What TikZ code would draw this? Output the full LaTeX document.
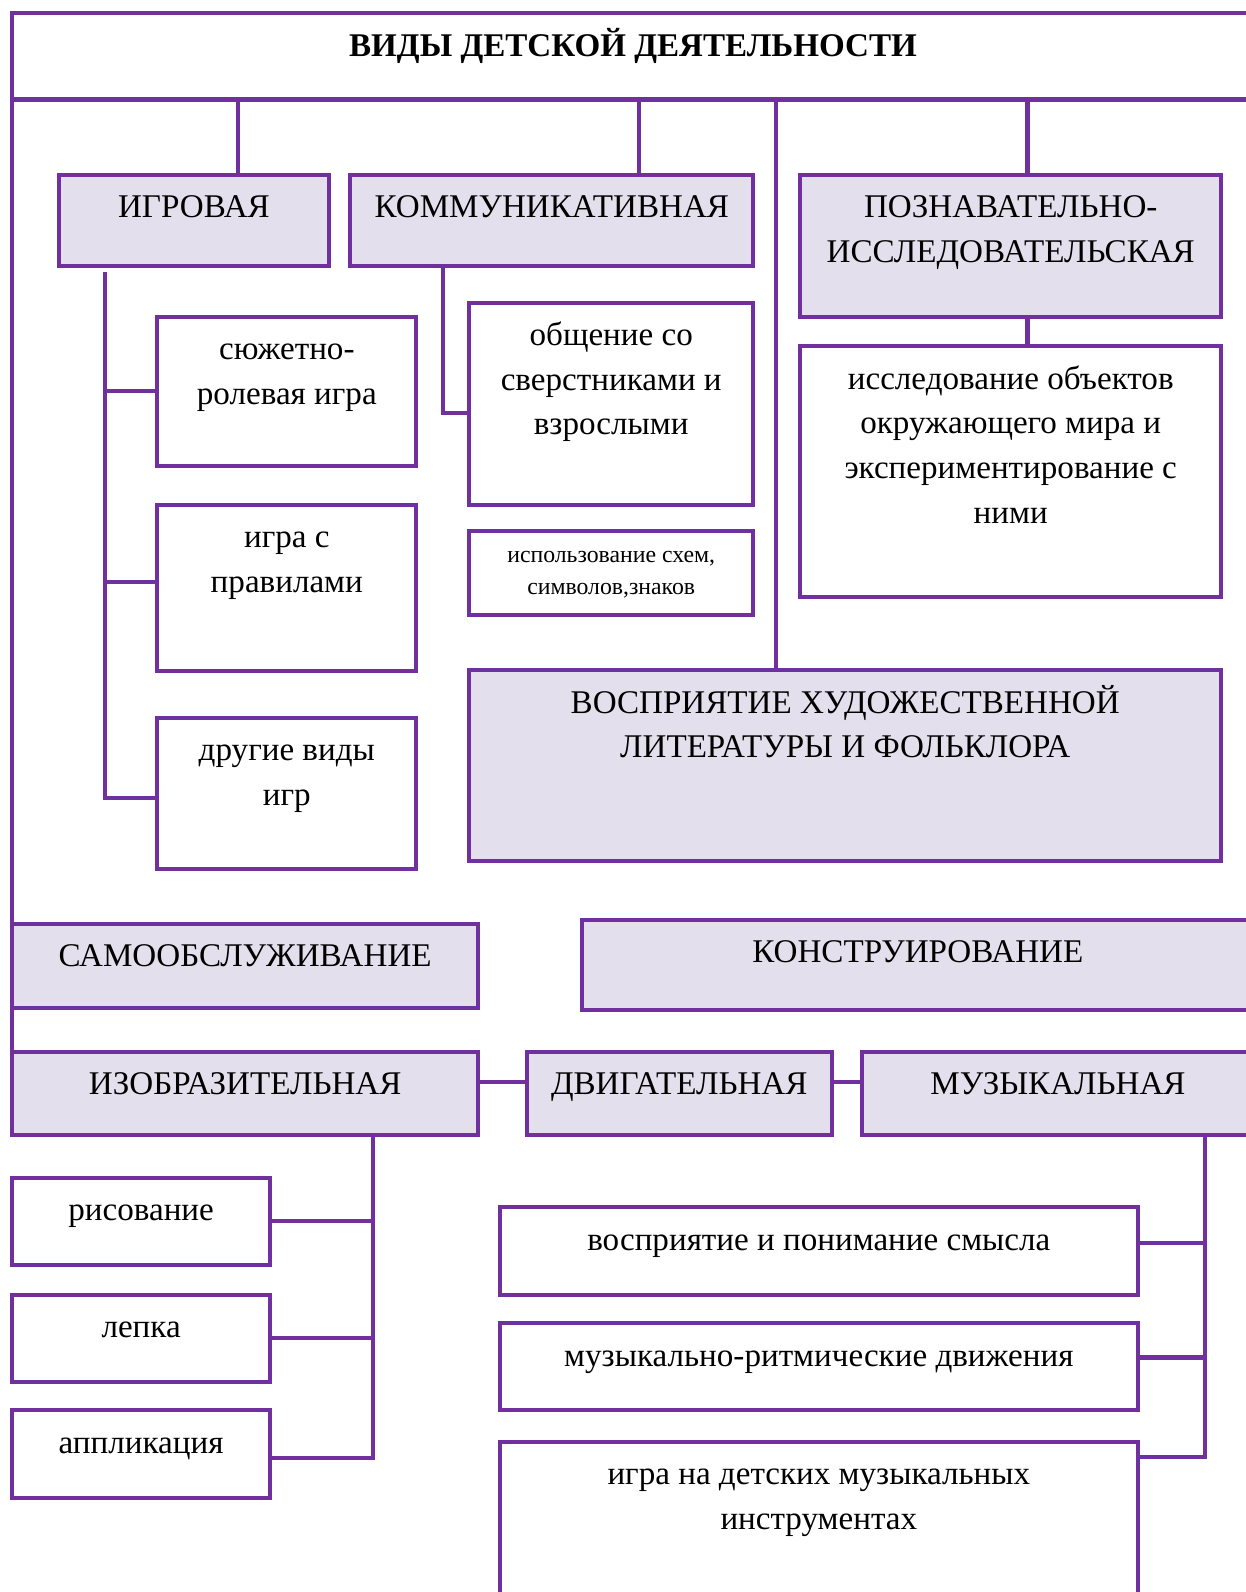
\documentclass[tikz,border=0pt]{standalone}
\usepackage{fontspec}
\setmainfont{Liberation Serif}
\definecolor{vpurple}{HTML}{7030A0}
\definecolor{vlav}{HTML}{E4DFEC}

\begin{document}
\begin{tikzpicture}[x=0.5pt, y=-0.5pt,
	box/.style={draw=vpurple, line width=2pt, anchor=north west, inner sep=0pt, outer sep=0pt},
	head/.style={box, fill=vlav},
	wh/.style 2 args={minimum width=#1*0.5pt, minimum height=#2*0.5pt},
	txt/.style={anchor=north, align=center, inner sep=0pt, yshift=-5.6pt, font=\fontsize{16.3}{22}\selectfont},
	lab/.style={label={[txt]north:\strut #1}},
	link/.style={draw=vpurple, line width=2pt}]

	\useasboundingbox (0,0) rectangle (1227,1568);
	\clip (0,0) rectangle (1227,1568);

	% top row
	\node[box, wh={1223}{85}, lab={\textbf{ВИДЫ ДЕТСКОЙ ДЕЯТЕЛЬНОСТИ}}] (title) at (12,13) {};
	\node[head, wh={266}{90}, lab={ИГРОВАЯ}] (igr) at (58,172) {};
	\node[head, wh={397}{90}, lab={КОММУНИКАТИВНАЯ}] (kom) at (345,172) {};
	\node[head, wh={415}{140}, lab={ПОЗНАВАТЕЛЬНО-\\ИССЛЕДОВАТЕЛЬСКАЯ}] (pozn) at (788,172) {};
	\node[box, wh={415}{247}, lab={исследование объектов\\окружающего мира и\\экспериментирование с\\ними}] (issl) at (788,341) {};

	% games
	\node[box, wh={255}{147}, lab={сюжетно-\\ролевая игра}] (srig) at (155,312) {};
	\node[box, wh={255}{164}, lab={игра с\\правилами}] (prav) at (155,497) {};
	\node[box, wh={255}{149}, lab={другие виды\\игр}] (drug) at (155,707) {};

	% communication
	\node[box, wh={280}{199}, lab={общение со\\сверстниками и\\взрослыми}] (obsh) at (462,298) {};
	\node[box, wh={280}{83}, label={[txt, font=\fontsize{11.7}{15.5}\selectfont, yshift=0.9pt]north:{\strut использование схем,\\символов,знаков}}] (shem) at (462,523) {};
	\node[head, wh={741}{188}, lab={ВОСПРИЯТИЕ ХУДОЖЕСТВЕННОЙ\\ЛИТЕРАТУРЫ И ФОЛЬКЛОРА}] (vospr) at (462,660) {};

	% middle rows
	\node[head, wh={459}{83}, lab={САМООБСЛУЖИВАНИЕ}] (samo) at (12,910) {};
	\node[head, wh={662}{89}, lab={КОНСТРУИРОВАНИЕ}] (konstr) at (573,906) {};
	\node[head, wh={459}{82}, lab={ИЗОБРАЗИТЕЛЬНАЯ}] (izo) at (12,1036) {};
	\node[head, wh={300}{82}, lab={ДВИГАТЕЛЬНАЯ}] (dvig) at (519,1036) {};
	\node[head, wh={386}{82}, lab={МУЗЫКАЛЬНАЯ}] (muz) at (849,1036) {};

	% art and music
	\node[box, wh={254}{86}, lab={рисование}] (ris) at (12,1160) {};
	\node[box, wh={254}{86}, lab={лепка}] (lep) at (12,1275) {};
	\node[box, wh={254}{86}, lab={аппликация}] (appl) at (12,1389) {};
	\node[box, wh={629}{86}, lab={восприятие и понимание смысла}] (vosm) at (492,1189) {};
	\node[box, wh={629}{86}, lab={музыкально-ритмические движения}] (ritm) at (492,1303) {};
	\node[box, wh={629}{180}, lab={игра на детских музыкальных\\инструментах}] (instr) at (492,1420) {};

	% connectors
	\coordinate (c1) at (234,98);
	\coordinate (c2) at (629,98);
	\coordinate (c3) at (764,98);
	\coordinate (c4) at (1012,98);
	\coordinate (igrsp) at (103,786);
	\coordinate (komsp) at (436,407);
	\coordinate (izosp) at (367,1436);
	\coordinate (muzsp) at (1187,1435);

	\draw[link] (c1) -- (c1 |- igr.north);
	\draw[link] (c2) -- (c2 |- kom.north);
	\draw[link] (c3) -- (c3 |- vospr.north);
	\draw[link] (c4) -- (c4 |- pozn.north);
	\draw[link] (c4 |- pozn.south) -- (c4 |- issl.north);
	\draw[link] (title.south west) -- (izo.north west);

	\draw[link] ([yshift=-3pt]igr.south -| igrsp) -- (igrsp) -- (igrsp -| drug.west);
	\draw[link] (srig.west) -- (srig.west -| igrsp);
	\draw[link] ([yshift=3pt]prav.west) -- ([yshift=3pt]prav.west -| igrsp);
	\draw[link] (kom.south -| komsp) -- (komsp) -- (komsp -| obsh.west);

	\draw[link] ([yshift=5.5pt]izo.east) -- ([yshift=5.5pt]izo.east -| dvig.west);
	\draw[link] ([yshift=5.5pt]dvig.east) -- ([yshift=5.5pt]dvig.east -| muz.west);

	\draw[link] (izo.south -| izosp) -- (izosp) -- (izosp -| appl.east);
	\draw[link] (ris.east) -- (ris.east -| izosp);
	\draw[link] (lep.east) -- (lep.east -| izosp);
	\draw[link] (muz.south -| muzsp) -- (muzsp) -- (muzsp -| instr.east);
	\draw[link] ([yshift=4pt]vosm.east) -- ([yshift=4pt]vosm.east -| muzsp);
	\draw[link] ([yshift=4.5pt]ritm.east) -- ([yshift=4.5pt]ritm.east -| muzsp);
\end{tikzpicture}
\end{document}
